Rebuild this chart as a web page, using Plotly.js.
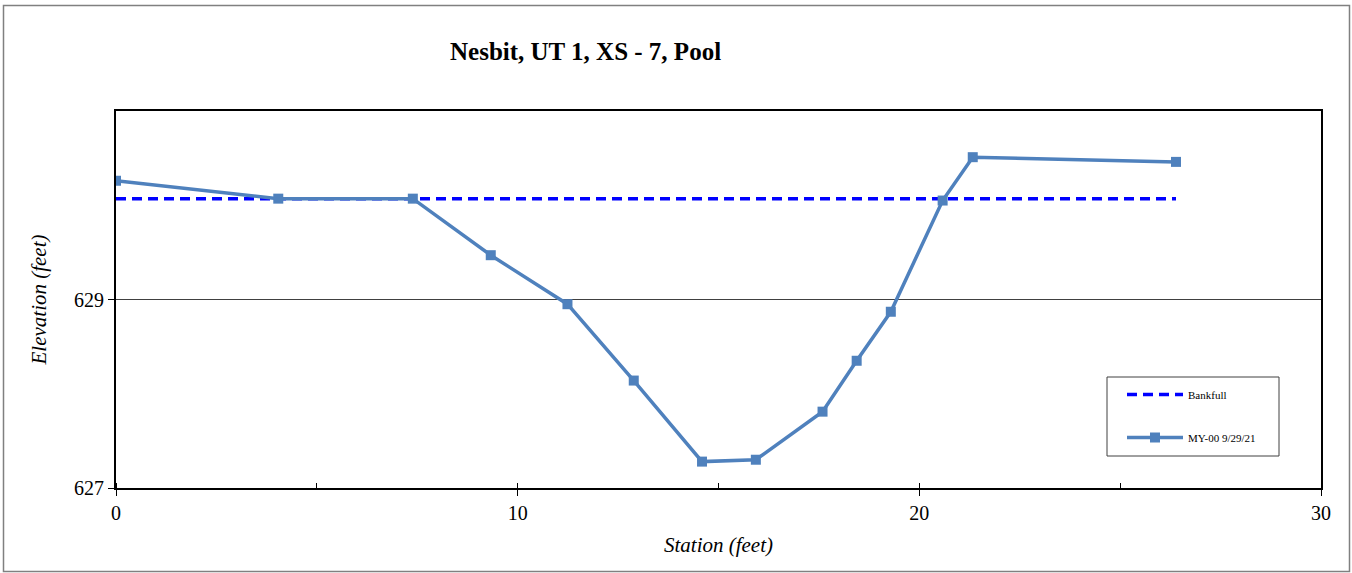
<!DOCTYPE html>
<html>
<head>
<meta charset="utf-8">
<script src="https://cdn.plot.ly/plotly-3.0.1.min.js"></script>
<style>
html,body{margin:0;padding:0;background:#fff;}
#chart{width:1352px;height:573px;}
</style>
</head>
<body>
<div id="chart"></div>
<script>
// Data
const station = [0, 4.04, 7.39, 9.33, 11.24, 12.89, 14.59, 15.93, 17.59, 18.44, 19.29, 20.58, 21.33, 26.39];
const elevation = [630.26, 630.07, 630.07, 629.47, 628.95, 628.14, 627.28, 627.30, 627.81, 628.35, 628.87, 630.05, 630.51, 630.46];
const bankfullStation = [0, 26.39];
const bankfullElevation = [630.07, 630.07];
const xTicks = [0, 10, 20, 30];
const yTicks = [627, 629];

const font = "Liberation Serif, serif";

const traces = [
  {
    x: bankfullStation, y: bankfullElevation, name: 'Bankfull',
    mode: 'lines', legendgroup: 'a',
    line: {color: '#0000FF', width: 3.5, dash: '10px,6px'}
  },
  {
    x: station, y: elevation, name: 'MY-00 9/29/21',
    mode: 'lines+markers', legendgroup: 'b',
    line: {color: '#4F81BD', width: 3.5},
    marker: {symbol: 'square', size: 10, color: '#4F81BD'}
  }
];

const L = 116, R = 1321, T = 111, B = 488;
const pw = R - L, ph = B - T;
const px = v => (v - L) / pw;
const py = v => (B - v) / ph;

const layout = {
  width: 1352, height: 573,
  margin: {l: L, r: 1352 - R, t: T, b: 573 - B, pad: 0},
  paper_bgcolor: '#fff', plot_bgcolor: '#fff',
  font: {family: font, color: '#000', size: 20},
  showlegend: true,
  xaxis: {
    range: [0, 30], tickvals: xTicks, ticktext: xTicks.map(String),
    showgrid: false, zeroline: false,
    showline: true, mirror: true, linecolor: '#000', linewidth: 2,
    ticks: 'outside', ticklen: 6, tickcolor: '#000', tickwidth: 1,
    minor: {dtick: 5, ticks: 'inside', ticklen: 5, tickcolor: '#000', showgrid: false},
    tickfont: {family: font, size: 20, color: '#000'},
    title: {text: '<i>Station (feet)</i>', font: {family: font, size: 21, color: '#000'}, standoff: 14}
  },
  yaxis: {
    range: [627, 631], tickvals: yTicks, ticktext: yTicks.map(String),
    showgrid: true, gridcolor: '#404040', gridwidth: 1, zeroline: false,
    showline: true, mirror: true, linecolor: '#000', linewidth: 2,
    ticks: 'outside', ticklen: 6, tickcolor: '#000', tickwidth: 1,
    tickfont: {family: font, size: 20, color: '#000'},
    title: {text: '<i>Elevation (feet)</i>', font: {family: font, size: 21, color: '#000'}, standoff: 22}
  },
  legend: {
    x: px(1122), y: py(380), xanchor: 'left', yanchor: 'top',
    borderwidth: 0, bgcolor: 'rgba(0,0,0,0)',
    font: {family: font, size: 11, color: '#000'},
    traceorder: 'grouped', tracegroupgap: 24,
    itemwidth: 56
  },
  annotations: [{
    text: '<b>Nesbit, UT 1, XS - 7, Pool</b>',
    xref: 'paper', yref: 'paper', x: px(585), y: py(52),
    xanchor: 'center', yanchor: 'middle', showarrow: false,
    font: {family: font, size: 25, color: '#000'}
  }],
  shapes: [
    {
      type: 'rect', xref: 'paper', yref: 'paper',
      x0: px(3.5), x1: px(1349.5), y0: py(571.5), y1: py(5.5),
      line: {color: '#808080', width: 1.5}, fillcolor: 'rgba(0,0,0,0)', layer: 'below'
    },
    {
      type: 'rect', xref: 'paper', yref: 'paper',
      x0: px(1107), x1: px(1279), y0: py(456), y1: py(377),
      line: {color: '#404040', width: 1}, fillcolor: '#fff', layer: 'above'
    }
  ]
};

Plotly.newPlot('chart', traces, layout, {displayModeBar: false, staticPlot: true});
</script>
</body>
</html>
